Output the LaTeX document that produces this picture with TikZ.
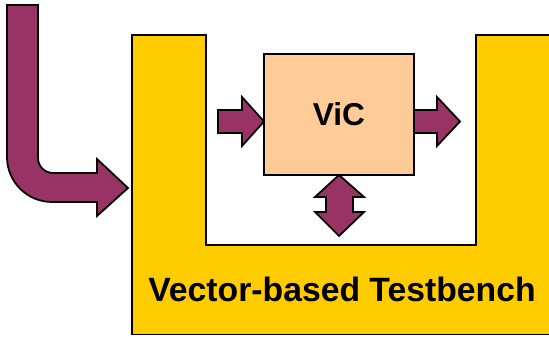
\documentclass[tikz,border=0pt]{standalone}
\usepackage{fontspec}
\setmainfont{Liberation Sans}
\definecolor{benchyellow}{HTML}{FFCC00}
\definecolor{vicpeach}{HTML}{FFCC99}
\definecolor{arrowplum}{HTML}{993366}
\tikzset{
  blockarrow/.style={draw,line width=1pt,fill=arrowplum,line join=miter},
  bigtext/.style={font=\bfseries\fontsize{18}{20}\selectfont}
}
\begin{document}
\begin{tikzpicture}[x=0.02cm,y=-0.02cm]
\useasboundingbox (0,0) rectangle (549,337);
\clip (0,0) rectangle (549,337);
% testbench frame
\draw [line width=1.1pt,fill=benchyellow] (132,35) -- (206,35) -- (206,245) -- (476,245) -- (476,35) -- (570,35) -- (570,334.5) -- (132,334.5) -- cycle;
\node [bigtext,font=\bfseries\fontsize{19.2}{21}\selectfont,anchor=base] (bench) at (342,302) {Vector-based Testbench};
% device
\node [draw,line width=1pt,fill=vicpeach,minimum width=3cm,minimum height=2.42cm,bigtext] (vic) at (339,114.5) {ViC};
% arrows
\draw [blockarrow] (218,110) -- (242,110) -- (242,97) -- (264,121.5) -- (242,146) -- (242,133) -- (218,133) -- cycle;
\draw [blockarrow] (414,110) -- (437,110) -- (437,97) -- (460,121.5) -- (437,146) -- (437,133) -- (414,133) -- cycle;
\draw [blockarrow] (339,175) -- (364,197) -- (353,197) -- (353,212) -- (364,212) -- (339,236) -- (315,212) -- (326,212) -- (326,197) -- (315,197) -- cycle;
\draw [blockarrow] (7,5) -- (38,5) -- (38,158) arc (180:90:15) -- (97,173) -- (97,159) -- (128,188) -- (97,216) -- (97,202) -- (52,202) arc (90:180:45) -- cycle;
\end{tikzpicture}
\end{document}
